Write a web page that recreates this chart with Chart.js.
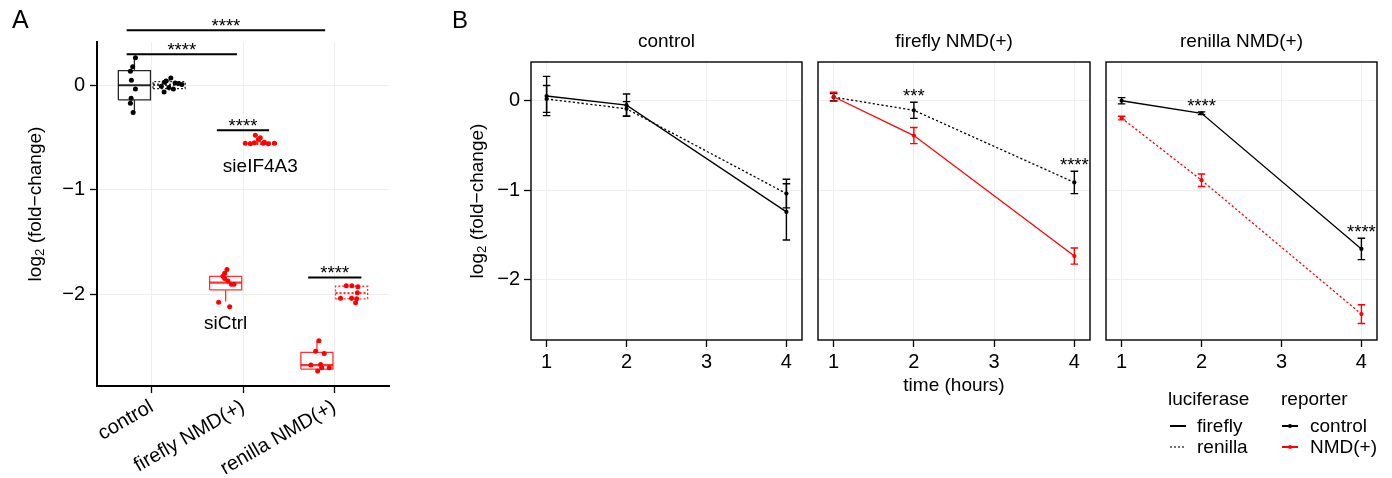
<!DOCTYPE html>
<html>
<head>
<meta charset="utf-8">
<script src="https://cdn.jsdelivr.net/npm/chart.js@4.4.1/dist/chart.umd.min.js"></script>
<style>
  html, body { margin: 0; padding: 0; background: #fff; }
  body { width: 1392px; height: 478px; position: relative; overflow: hidden;
         font-family: "Liberation Sans", Arial, Helvetica, sans-serif; color: #000; }
  canvas { position: absolute; top: 0; }
  .lbl { position: absolute; white-space: nowrap; line-height: 1; }
  .lbl sub { font-size: 70%; line-height: 0; vertical-align: -0.3em; }
</style>
</head>
<body>
<canvas id="panelA" width="440" height="478" style="left:0"></canvas>
<canvas id="facet0" width="372" height="478" style="left:440px"></canvas>
<canvas id="facet1" width="288" height="478" style="left:812px"></canvas>
<canvas id="facet2" width="292" height="478" style="left:1100px"></canvas>
<svg id="keys" width="1392" height="478" style="position:absolute;left:0;top:0"></svg>

<script>
// ── Panel A data: log2 fold-change per reporter ─────────────────────
var A_CATEGORIES = ['control', 'firefly NMD(+)', 'renilla NMD(+)'];
var A_COLORS = ['#000000', '#ff0000', '#ff0000'];

// box stats: [lower whisker, q1, median, q3, upper whisker]
var SICTRL_BOX = [
  [-0.26, -0.14, 0.0, 0.14, 0.263],
  [-2.07, -1.96, -1.89, -1.83, -1.755],
  [-2.74, -2.718, -2.68, -2.558, -2.447]
];
var SIEIF_BOX = [
  [-0.064, -0.032, 0.005, 0.035, 0.07],
  [-0.57, -0.565, -0.555, -0.545, -0.52],
  [-2.083, -2.045, -1.99, -1.925, -1.92]
];

// individual replicates (value) and their horizontal jitter
var SICTRL_VALUES = [
  [0.263, 0.176, 0.134, 0.048, -0.035, -0.124, -0.172, -0.261],
  [-1.764, -1.80, -1.83, -1.85, -1.875, -1.905, -1.905, -2.077, -2.12],
  [-2.447, -2.548, -2.568, -2.68, -2.673, -2.705, -2.737, -2.705]
];
var SICTRL_JITTER = [
  [0.011, -0.019, -0.044, -0.033, 0.011, -0.036, -0.044, -0.014],
  [0.014, -0.011, -0.03, -0.011, 0.025, 0.063, 0.091, -0.077, 0.044],
  [0.022, -0.014, 0.08, -0.066, 0.041, 0.135, 0.008, 0.052]
];
var SIEIF_VALUES = [
  [0.029, 0.07, 0.041, -0.01, -0.035, -0.064, -0.022, 0.016, 0.022, 0.007],
  [-0.478, -0.504, -0.52, -0.555, -0.56, -0.55, -0.555, -0.56, -0.555, -0.545],
  [-1.92, -1.92, -1.93, -1.987, -2.04, -2.04, -2.045, -2.083]
];
var SIEIF_JITTER = [
  [-0.052, 0.019, -0.033, -0.085, 0.047, -0.055, -0.003, 0.102, 0.066, 0.14],
  [-0.055, 0.0, -0.022, -0.165, -0.11, -0.066, 0.033, 0.088, 0.154, 0.044],
  [-0.058, 0.003, 0.069, 0.063, -0.121, 0.0, 0.055, 0.044]
];

// significance brackets
var BRACKET_X1 = [0.725, 0.725, 1.714, 2.714];
var BRACKET_X2 = [2.90, 1.934, 2.286, 3.297];
var BRACKET_Y = [0.526, 0.297, -0.43, -1.84];
var BRACKET_LABEL = ['****', '****', '****', '****'];

// ── Panel B data: decay time course ─────────────────────────────────
var TIME = [1, 2, 4];
var FACETS = ['control', 'firefly NMD(+)', 'renilla NMD(+)'];
var FIREFLY_MEAN = [[0.053, -0.05, -1.245], [0.045, -0.39, -1.74], [0.0, -0.14, -1.66]];
var FIREFLY_SE = [[0.22, 0.125, 0.315], [0.05, 0.09, 0.09], [0.035, 0.015, 0.12]];
var RENILLA_MEAN = [[0.02, -0.09, -1.04], [0.04, -0.107, -0.915], [-0.194, -0.89, -2.39]];
var RENILLA_SE = [[0.15, 0.08, 0.16], [0.04, 0.09, 0.125], [0.02, 0.07, 0.105]];
var FIREFLY_REPORTER = ['control', 'NMD(+)', 'control'];
var RENILLA_REPORTER = ['control', 'control', 'NMD(+)'];
var STAR_LABELS = [['', '', ''], ['', '***', '****'], ['', '****', '****']];

var SANS = '"Liberation Sans", Arial, Helvetica, sans-serif';
var BOX_HALF = 0.176;
var DODGE = 0.19;
var CAP = 0.047;
var TICK_SIZE = 20;
var REPORTER_COLOR = { 'control': '#000000', 'NMD(+)': '#ff0000' };

function fixWidth(w) { return function (s) { s.width = w; }; }
function fixHeight(h) { return function (s) { s.height = h; }; }
function onlyTicks(vals) {
  return function (s) { s.ticks = vals.map(function (v) { return { value: v }; }); };
}
function minusFmt(v) { return v < 0 ? '\u2212' + Math.abs(v) : String(v); }
function gap(x) { return { x: x, y: null }; }

// text at data coordinates, drawn over the datasets
var notesPlugin = {
  id: 'notes',
  afterDatasetsDraw: function (chart, args, opts) {
    var ctx = chart.ctx, xs = chart.scales.x, ys = chart.scales.y;
    ctx.save();
    (opts.items || []).forEach(function (n) {
      ctx.font = n.font;
      ctx.fillStyle = n.color || '#000';
      ctx.textAlign = 'center';
      ctx.textBaseline = 'alphabetic';
      ctx.fillText(n.text, xs.getPixelForValue(n.x), ys.getPixelForValue(n.y) + (n.dy || 0));
    });
    ctx.restore();
  }
};

// panel border for the facets
var framePlugin = {
  id: 'frame',
  afterDraw: function (chart, args, opts) {
    if (!opts.show) return;
    var a = chart.chartArea, ctx = chart.ctx;
    ctx.save();
    ctx.strokeStyle = '#000';
    ctx.lineWidth = 1.4;
    ctx.strokeRect(a.left, a.top, a.right - a.left, a.bottom - a.top);
    ctx.restore();
  }
};

// ── Panel A ─────────────────────────────────────────────────────────
function buildPanelA() {
  var datasets = [];
  var notes = [];

  A_CATEGORIES.forEach(function (cat, c) {
    var groups = [
      { box: SICTRL_BOX[c], vals: SICTRL_VALUES[c], jit: SICTRL_JITTER[c], off: -DODGE, dash: [] },
      { box: SIEIF_BOX[c], vals: SIEIF_VALUES[c], jit: SIEIF_JITTER[c], off: DODGE, dash: [2, 2] }
    ];
    var col = A_COLORS[c];
    var boxCol = c === 0 ? 'rgba(0,0,0,0.85)' : 'rgba(255,0,0,0.8)';
    groups.forEach(function (g) {
      var cx = c + 1 + g.off, b = g.box;
      var L = cx - BOX_HALF, R = cx + BOX_HALF;
      datasets.push({
        type: 'line', borderColor: boxCol, borderWidth: 1.3, borderDash: g.dash,
        pointRadius: 0, spanGaps: false, fill: false,
        data: [
          { x: L, y: b[1] }, { x: R, y: b[1] }, { x: R, y: b[3] }, { x: L, y: b[3] }, { x: L, y: b[1] }, gap(cx),
          { x: cx, y: b[3] }, { x: cx, y: b[4] }, gap(cx),
          { x: cx, y: b[1] }, { x: cx, y: b[0] }
        ]
      });
      datasets.push({
        type: 'line', borderColor: boxCol, borderWidth: 2.2, borderDash: g.dash,
        pointRadius: 0, fill: false,
        data: [{ x: L, y: b[2] }, { x: R, y: b[2] }]
      });
      datasets.push({
        type: 'scatter', pointRadius: 2.5, pointBackgroundColor: col, pointBorderWidth: 0,
        data: g.vals.map(function (v, i) { return { x: cx + g.jit[i], y: v }; })
      });
    });
  });

  BRACKET_Y.forEach(function (y, i) {
    datasets.push({
      type: 'line', borderColor: '#000', borderWidth: 2, pointRadius: 0, clip: false, fill: false,
      data: [{ x: BRACKET_X1[i], y: y }, { x: BRACKET_X2[i], y: y }]
    });
    notes.push({ text: BRACKET_LABEL[i], x: (BRACKET_X1[i] + BRACKET_X2[i]) / 2, y: y, dy: 2,
                 font: '18.5px ' + SANS });
  });

  notes.push({ text: 'sieIF4A3', x: 2 + DODGE, y: -0.83, font: '19px ' + SANS });
  notes.push({ text: 'siCtrl', x: 2 - DODGE, y: -2.335, font: '19px ' + SANS });

  new Chart(document.getElementById('panelA'), {
    type: 'scatter',
    data: { datasets: datasets },
    plugins: [notesPlugin],
    options: {
      responsive: false, animation: false, devicePixelRatio: 1,
      layout: { padding: { left: 0, top: 42, right: 51, bottom: 0 } },
      plugins: { legend: { display: false }, tooltip: { enabled: false }, notes: { items: notes } },
      scales: {
        x: {
          type: 'linear', min: 0.4, max: 3.6,
          afterFit: fixHeight(92), afterBuildTicks: onlyTicks([1, 2, 3]),
          ticks: {
            autoSkip: false, minRotation: 30, maxRotation: 30, padding: 2, color: '#000',
            font: { family: SANS, size: TICK_SIZE },
            callback: function (v, i) { return A_CATEGORIES[i]; }
          },
          grid: { color: '#eeeeee', lineWidth: 1, tickLength: 7, tickColor: '#000', tickWidth: 1.3 },
          border: { color: '#000', width: 2 }
        },
        y: {
          min: -2.88, max: 0.414,
          afterFit: fixWidth(97), afterBuildTicks: onlyTicks([-2, -1, 0]),
          ticks: { padding: 5, color: '#000', font: { family: SANS, size: TICK_SIZE }, callback: minusFmt },
          grid: { color: '#eeeeee', lineWidth: 1, tickLength: 7, tickColor: '#000', tickWidth: 1.3 },
          border: { color: '#000', width: 2 }
        }
      }
    }
  });
}

// ── Panel B facets ──────────────────────────────────────────────────
function buildFacet(f, leftW, rightPad) {
  var series = [
    { mean: FIREFLY_MEAN[f], se: FIREFLY_SE[f], rep: FIREFLY_REPORTER[f], dash: [] },
    { mean: RENILLA_MEAN[f], se: RENILLA_SE[f], rep: RENILLA_REPORTER[f], dash: [2.2, 2.2] }
  ];
  var datasets = [];
  var notes = [];

  series.forEach(function (s) {
    var col = REPORTER_COLOR[s.rep];
    var err = [];
    TIME.forEach(function (t, i) {
      var lo = s.mean[i] - s.se[i], hi = s.mean[i] + s.se[i];
      err.push({ x: t, y: lo }, { x: t, y: hi }, gap(t),
               { x: t - CAP, y: hi }, { x: t + CAP, y: hi }, gap(t),
               { x: t - CAP, y: lo }, { x: t + CAP, y: lo }, gap(t));
    });
    datasets.push({ type: 'line', borderColor: col, borderWidth: 1.4, pointRadius: 0,
                    spanGaps: false, fill: false, data: err });
  });
  series.forEach(function (s) {
    var col = REPORTER_COLOR[s.rep];
    datasets.push({
      type: 'line', borderColor: col, borderWidth: 1.3, borderDash: s.dash,
      pointRadius: 2.1, pointBackgroundColor: col, pointBorderWidth: 0, fill: false,
      data: TIME.map(function (t, i) { return { x: t, y: s.mean[i] }; })
    });
    if (s.rep === 'control') {
      STAR_LABELS[f].forEach(function (lab, i) {
        if (lab) notes.push({ text: lab, x: TIME[i], y: s.mean[i] + s.se[i], dy: 0, font: '18.5px ' + SANS });
      });
    }
  });

  var showY = f === 0;
  new Chart(document.getElementById('facet' + f), {
    type: 'scatter',
    data: { datasets: datasets },
    plugins: [notesPlugin, framePlugin],
    options: {
      responsive: false, animation: false, devicePixelRatio: 1,
      layout: { padding: { left: 0, top: 62, right: rightPad, bottom: 0 } },
      plugins: { legend: { display: false }, tooltip: { enabled: false },
                 notes: { items: notes }, frame: { show: true } },
      scales: {
        x: {
          type: 'linear', min: 0.805, max: 4.195,
          afterFit: fixHeight(138), afterBuildTicks: onlyTicks([1, 2, 3, 4]),
          ticks: { padding: 3, color: '#000', font: { family: SANS, size: TICK_SIZE } },
          grid: { color: '#eeeeee', lineWidth: 1, tickLength: 7, tickColor: '#000', tickWidth: 1.3 },
          border: { display: false }
        },
        y: {
          min: -2.68, max: 0.434,
          afterFit: fixWidth(leftW), afterBuildTicks: onlyTicks([-2, -1, 0]),
          ticks: { display: showY, padding: 4, color: '#000', font: { family: SANS, size: TICK_SIZE }, callback: minusFmt },
          grid: { color: '#eeeeee', lineWidth: 1, drawTicks: showY, tickLength: 7, tickColor: '#000', tickWidth: 1.3 },
          border: { display: false }
        }
      }
    }
  });
}

// ── HTML text ───────────────────────────────────────────────────────
function addText(html, x, baseline, size, align) {
  var d = document.createElement('div');
  d.className = 'lbl';
  d.innerHTML = html;
  d.style.fontSize = size + 'px';
  d.style.top = (baseline - 0.846 * size) + 'px';
  d.style.left = x + 'px';
  if (align === 'center') d.style.transform = 'translateX(-50%)';
  document.body.appendChild(d);
}
function addVText(html, cx, cy, size) {
  var d = document.createElement('div');
  d.className = 'lbl';
  d.innerHTML = html;
  d.style.fontSize = size + 'px';
  d.style.left = cx + 'px';
  d.style.top = cy + 'px';
  d.style.transform = 'translate(-50%,-50%) rotate(-90deg)';
  document.body.appendChild(d);
}

function svgEl(name, attrs) {
  var el = document.createElementNS('http://www.w3.org/2000/svg', name);
  Object.keys(attrs).forEach(function (k) { el.setAttribute(k, attrs[k]); });
  document.getElementById('keys').appendChild(el);
}

buildPanelA();
buildFacet(0, 91, 10);
buildFacet(1, 6, 10);
buildFacet(2, 6, 15);

addText('A', 12, 28, 25);
addText('B', 452, 28, 24);
addVText('log<sub>2</sub> (fold\u2212change)', 34, 204, 19);
addVText('log<sub>2</sub> (fold\u2212change)', 476, 201, 19);

var STRIP_X = [666.5, 954, 1241.5];
FACETS.forEach(function (name, i) { addText(name, STRIP_X[i], 47, 19, 'center'); });
addText('time (hours)', 954, 391, 19, 'center');

// legend
addText('luciferase', 1168, 405, 19);
addText('firefly', 1197, 432, 19);
addText('renilla', 1197, 453, 19);
addText('reporter', 1281, 405, 19);
addText('control', 1310, 432, 19);
addText('NMD(+)', 1310, 453, 19);
svgEl('line', { x1: 1170, y1: 426, x2: 1186, y2: 426, stroke: '#000', 'stroke-width': 2 });
svgEl('line', { x1: 1170, y1: 447, x2: 1186, y2: 447, stroke: '#444', 'stroke-width': 1.3, 'stroke-dasharray': '2 2' });
svgEl('line', { x1: 1282, y1: 426, x2: 1298, y2: 426, stroke: '#000', 'stroke-width': 2 });
svgEl('circle', { cx: 1290, cy: 426, r: 2, fill: '#000' });
svgEl('line', { x1: 1282, y1: 447, x2: 1298, y2: 447, stroke: '#ff0000', 'stroke-width': 2 });
svgEl('circle', { cx: 1290, cy: 447, r: 2, fill: '#ff0000' });
</script>
</body>
</html>
